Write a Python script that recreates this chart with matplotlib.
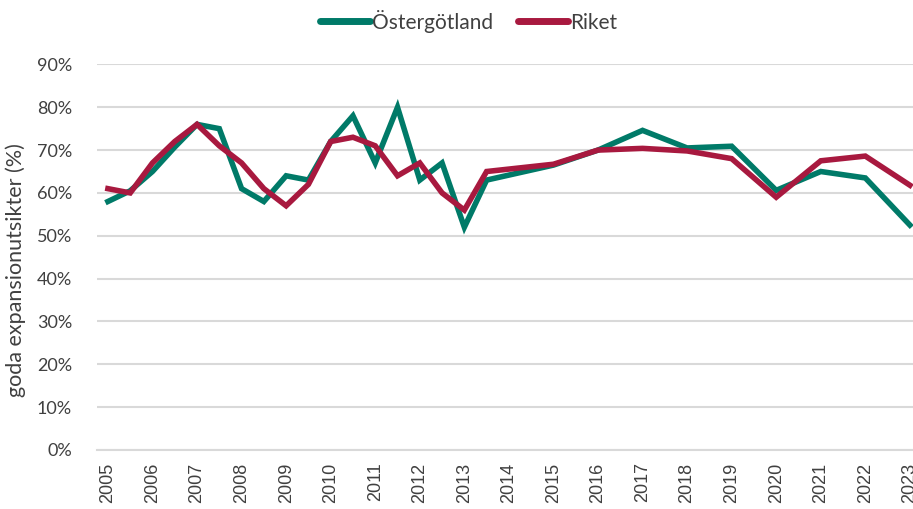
import matplotlib
matplotlib.use("Agg")
import matplotlib.pyplot as plt
import numpy as np

x_years = [2005, 2005.5, 2006, 2006.5, 2007, 2007.5, 2008, 2008.5, 2009, 2009.5,
           2010, 2010.5, 2011, 2011.5, 2012, 2012.5, 2013, 2013.5,
           2015, 2016, 2017, 2018, 2019, 2020, 2021, 2022, 2023]
ostergotland = [58, 60.5, 65, 70.7, 76, 75, 61, 58, 64, 63,
                72, 78, 67, 80, 63, 67, 52, 63,
                66.5, 70, 74.6, 70.5, 70.9, 60.6, 65, 63.5, 52.5]
riket = [61, 60, 67, 72, 76, 71, 67, 61, 57, 62,
         72, 73, 71, 64, 67, 60, 56, 65,
         66.7, 70, 70.4, 69.8, 68, 59, 67.5, 68.6, 61.8]
tick_years = list(range(2005, 2024))
y_ticks = [0, 10, 20, 30, 40, 50, 60, 70, 80, 90]

teal = "#007A68"
red = "#A8193F"
txt = "#404040"

fig = plt.figure(figsize=(9.13, 5.09), dpi=100)
ax = fig.add_axes([97/913, 1 - 450/509, 1 - 97/913, (450 - 64.4)/509])

ax.plot(x_years, ostergotland, color=teal, lw=4, label="Östergötland", solid_joinstyle="miter", zorder=3)
ax.plot(x_years, riket, color=red, lw=4, label="Riket", solid_joinstyle="miter", zorder=4)

ax.set_xlim(2004.755, 2023.07)
ax.set_ylim(0, 90)
ax.set_yticks(y_ticks)
ax.set_yticklabels([f"{v}%" for v in y_ticks], family="Lato", fontsize=13, color=txt)
ax.set_xticks(tick_years)
ax.set_xticklabels([str(y) for y in tick_years], rotation=90, family="Liberation Sans",
                   fontsize=13, color=txt)
ax.tick_params(axis="both", length=0)
ax.tick_params(axis="y", pad=18)
ax.tick_params(axis="x", pad=9)
ax.grid(axis="y", color="#d9d9d9", lw=1.5)
ax.set_axisbelow(True)
for s in ["top", "right", "left"]:
    ax.spines[s].set_visible(False)
ax.spines["bottom"].set_color("#d9d9d9")
ax.spines["bottom"].set_linewidth(1.5)

ax.set_ylabel("goda expansionutsikter (%)", family="Lato", fontsize=15.5, color=txt)
ax.yaxis.set_label_coords(-0.087, 0.467)

leg = fig.legend(loc="upper center", bbox_to_anchor=(0.513, 1.018), ncol=2, frameon=False,
                 prop={"family": "Lato", "size": 15}, handlelength=2.4, handletextpad=0.1,
                 columnspacing=1.2)
for t in leg.get_texts():
    t.set_color(txt)
for h in leg.get_lines():
    h.set_solid_capstyle("round")
    h.set_linewidth(5)

fig.savefig("out.png", dpi=100)
